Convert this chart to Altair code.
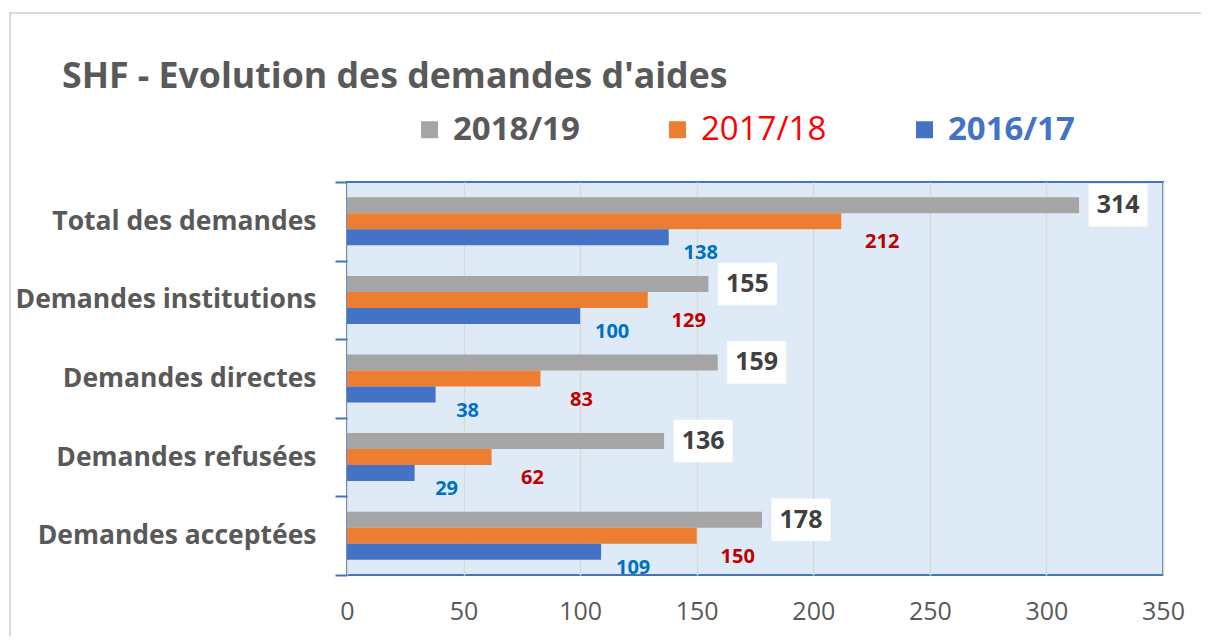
import altair as alt
import pandas as pd

categories = ["Total des demandes", "Demandes institutions", "Demandes directes",
              "Demandes refusées", "Demandes acceptées"]
series = ["2018/19", "2017/18", "2016/17"]
v_2018_19 = [314, 155, 159, 136, 178]
v_2017_18 = [212, 129, 83, 62, 150]
v_2016_17 = [138, 100, 38, 29, 109]
x_ticks = [0, 50, 100, 150, 200, 250, 300, 350]
title_text = "SHF - Evolution des demandes d'aides"

colors = ["#A5A5A5", "#ED7D31", "#4472C4"]
FONT = "Open Sans"

rows = []
for s, vals in zip(series, [v_2018_19, v_2017_18, v_2016_17]):
    for c, v in zip(categories, vals):
        rows.append({"cat": c, "serie": s, "val": v})
df = pd.DataFrame(rows)

y_enc = alt.Y("cat:N", sort=categories,
              scale=alt.Scale(paddingInner=0, paddingOuter=0),
              axis=alt.Axis(title=None, labelFont=FONT, labelFontSize=26.5,
                            labelFontWeight="bold", labelColor="#595959",
                            labelPadding=19, labelLimit=500, tickBand="extent",
                            tickSize=12, tickWidth=2, tickColor="#4472C4",
                            domain=False))
yoff_enc = alt.YOffset("serie:N", sort=series,
                       scale=alt.Scale(domain=series, paddingInner=0, paddingOuter=0.955))
x_enc = alt.X("val:Q", scale=alt.Scale(domain=[0, 350], nice=False),
              axis=alt.Axis(title=None, values=x_ticks, labelFont=FONT,
                            labelFontSize=25, labelColor="#595959", labelPadding=24,
                            labelFlush=False, ticks=False, domain=False, grid=True,
                            gridColor="#D9D9D9", gridWidth=1.5))

base = alt.Chart(df).encode(y=y_enc, yOffset=yoff_enc, x=x_enc)

label_color_expr = ("datum.label == '2017/18' ? '#FF0000' : "
                    "(datum.label == '2016/17' ? '#4472C4' : '#595959')")
label_weight_expr = "datum.label == '2017/18' ? 'normal' : 'bold'"

bars = base.mark_bar().encode(
    color=alt.Color("serie:N", sort=series,
                    scale=alt.Scale(domain=series, range=colors),
                    legend=alt.Legend(title=None, orient="none", direction="horizontal",
                                      columns=3, legendX=66, legendY=-69,
                                      symbolType="square", symbolSize=289,
                                      symbolStrokeWidth=0, labelOffset=7,
                                      columnPadding=81, padding=0,
                                      labelFont=FONT, labelFontSize=33,
                                      labelColor=alt.ExprRef(expr=label_color_expr),
                                      labelFontWeight=alt.ExprRef(expr=label_weight_expr),
                                      labelLimit=300))
)

gray = base.transform_filter(alt.datum.serie == series[0])
box = gray.mark_point(shape="M-1,-0.72L1,-0.72L1,0.72L-1,0.72Z", filled=True,
                      fill="white", opacity=1, size=3481, xOffset=39, strokeWidth=0)
gray_txt = gray.mark_text(dx=39, align="center", baseline="middle", font=FONT,
                          fontSize=25, fontWeight="bold", color="#404040").encode(
    text="val:Q")

orange_txt = base.transform_filter(alt.datum.serie == series[1]).mark_text(
    dx=41, dy=21, align="center", baseline="middle", font=FONT, fontSize=20,
    fontWeight="bold", color="#C00000").encode(text="val:Q")

blue_txt = base.transform_filter(alt.datum.serie == series[2]).mark_text(
    dx=32, dy=16, align="center", baseline="middle", font=FONT, fontSize=20,
    fontWeight="bold", color="#0070C0").encode(text="val:Q")

one = pd.DataFrame({"k": [0]})
title = alt.Chart(one).mark_text(text=title_text, align="left", baseline="alphabetic",
                                 font=FONT, fontSize=35.7, fontWeight="bold",
                                 color="#595959").encode(
    x=alt.value(-285), y=alt.value(-94))
frame = alt.Chart(one).mark_rect(fill="transparent", stroke="#D9D9D9",
                                 strokeWidth=2).encode(
    x=alt.value(-337), x2=alt.value(900), y=alt.value(-169), y2=alt.value(500))

chart = alt.layer(frame, bars, box, gray_txt, orange_txt, blue_txt, title).properties(
    width=816, height=393,
    autosize=alt.AutoSizeParams(type="none"),
    padding={"left": 339, "top": 174, "right": 38, "bottom": 61},
).configure_view(stroke="#4472C4", strokeWidth=2, fill="#DEEBF7")

chart.save("out.html", embed_options={"renderer": "svg", "actions": False})
